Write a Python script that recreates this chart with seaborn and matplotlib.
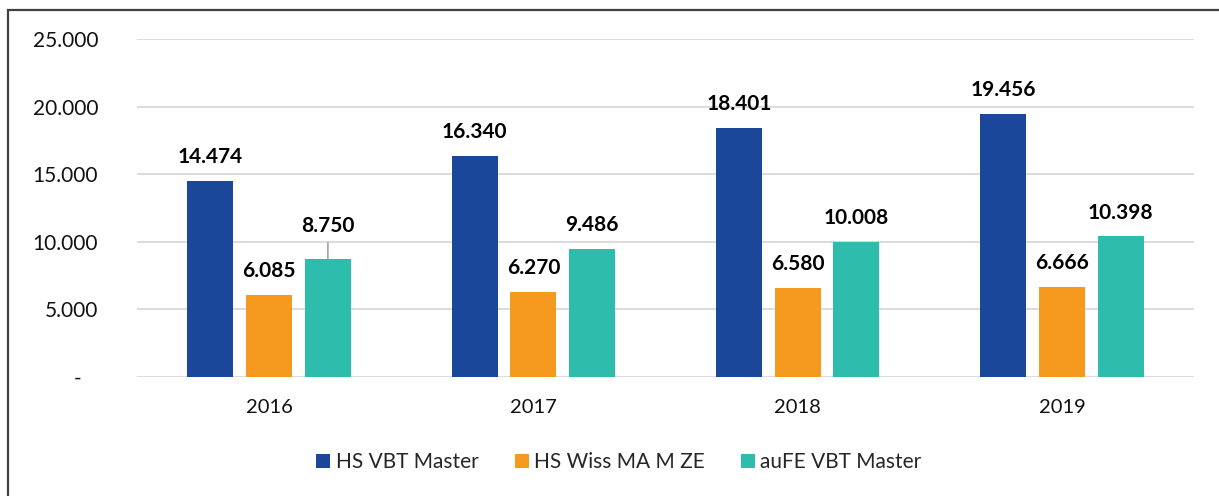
import pandas as pd
import matplotlib.pyplot as plt
import matplotlib.patches as mpatches
import seaborn as sns

# chart values
years = ['2016', '2017', '2018', '2019']
series_names = ['HS VBT Master', 'HS Wiss MA M ZE', 'auFE VBT Master']
hs_vbt_master = [14474, 16340, 18401, 19456]
hs_wiss_ma = [6085, 6270, 6580, 6666]
aufe_vbt_master = [8750, 9486, 10008, 10398]
colors = ['#1B479B', '#F6991F', '#2EBDAD']
y_ticks = [0, 5000, 10000, 15000, 20000, 25000]


def fmt(v):
    return f"{v:,.0f}".replace(',', '.')


def build_frame():
    rows = []
    for name, vals in zip(series_names, [hs_vbt_master, hs_wiss_ma, aufe_vbt_master]):
        for y, v in zip(years, vals):
            rows.append({'year': y, 'series': name, 'value': v})
    return pd.DataFrame(rows)


sns.set_style('white')
plt.rcParams['font.family'] = ['Lato', 'DejaVu Sans']

df = build_frame()

fig = plt.figure(figsize=(12.19, 4.96), dpi=100)
ax = fig.add_axes([137 / 1219, 1 - 377 / 496, (1194 - 137) / 1219, (377 - 39) / 496])

sns.barplot(data=df, x='year', y='value', hue='series', palette=colors,
            width=0.667, gap=0.22, saturation=1, linewidth=0, ax=ax)

ax.set_ylim(0, 25000)
ax.set_yticks(y_ticks)
ax.set_yticklabels(['-   '] + [fmt(t) for t in y_ticks[1:]], fontsize=15, color='#111111')
ax.tick_params(axis='y', length=0, pad=28)
ax.tick_params(axis='x', length=0, pad=16, labelsize=14.5, labelcolor='#111111')
ax.set_xlabel('')
ax.set_ylabel('')
ax.set_xlim(-0.5, 3.5)
ax.yaxis.grid(True, color='#d9d9d9', linewidth=1.3)
ax.set_axisbelow(True)
for s in ax.spines.values():
    s.set_visible(False)

# data labels
for ci, container in enumerate(ax.containers):
    for bi, bar in enumerate(container):
        h = bar.get_height()
        x = bar.get_x() + bar.get_width() / 2
        if ci == 2 and bi == 0:
            ax.annotate(fmt(h), xy=(x, h), xytext=(0, 16), textcoords='offset points',
                        ha='center', va='bottom', fontsize=15, fontweight='bold',
                        color='#000000',
                        arrowprops=dict(arrowstyle='-', color='#a6a6a6', lw=1.2,
                                        shrinkA=2, shrinkB=0))
        else:
            ax.annotate(fmt(h), xy=(x, h), xytext=(0, 10), textcoords='offset points',
                        ha='center', va='bottom', fontsize=15, fontweight='bold',
                        color='#000000')

handles, labels = ax.get_legend_handles_labels()
ax.get_legend().remove()
fig.legend(handles, labels, loc='center', bbox_to_anchor=(619 / 1219, 1 - 462 / 496),
           ncol=3, frameon=False, handlelength=0.67, handleheight=0.67,
           handletextpad=0.25, columnspacing=1.75,
           prop={'family': ['Lato', 'DejaVu Sans'], 'size': 15})

# outer chart frame
fig.patches.append(mpatches.Rectangle((8 / 1219, -0.1), 1.2, 1 - 10 / 496 + 0.1,
                                      transform=fig.transFigure, fill=False,
                                      edgecolor='#404040', linewidth=1.6))

fig.savefig('out.png', dpi=100)
